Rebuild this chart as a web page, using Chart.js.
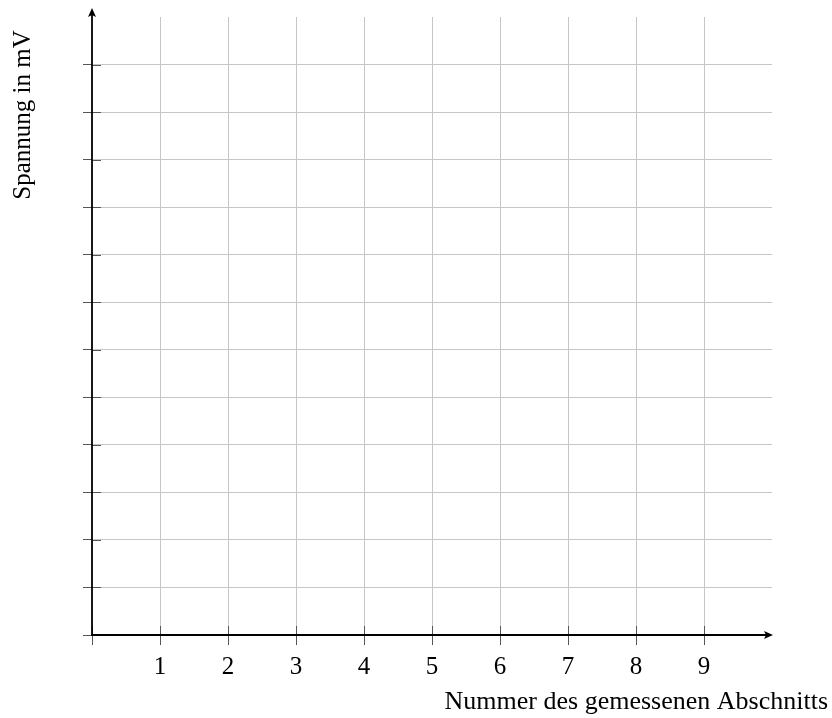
<!DOCTYPE html>
<html>
<head>
<meta charset="utf-8">
<script src="https://cdn.jsdelivr.net/npm/chart.js@4.4.0/dist/chart.umd.min.js"></script>
<style>
  html, body { margin: 0; padding: 0; background: #fff; }
  #wrap { width: 832px; height: 718px; }
</style>
</head>
<body>
<div id="wrap"><canvas id="chart"></canvas></div>
<script>
// empty answer grid: no measured values yet
var xTicks = [0, 1, 2, 3, 4, 5, 6, 7, 8, 9];
var xTickLabels = ['', '1', '2', '3', '4', '5', '6', '7', '8', '9'];
var yTicks = [0, 1, 2, 3, 4, 5, 6, 7, 8, 9, 10, 11, 12];
var xRange = [0, 10];
var yRange = [0, 13];
var xTitle = 'Nummer des gemessenen Abschnitts';
var yTitle = 'Spannung in mV';
var measured = [];

var serif = '"Liberation Serif", "DejaVu Serif", serif';

// only the value 0 sits under the axis line, so hide its grid line
function gridColor(ctx) {
    return ctx.tick && ctx.tick.value === 0 ? 'rgba(0,0,0,0)' : '#c6c6c6';
}

// axes with arrow heads, inner half of tick marks and titles
var axesPlugin = {
    id: 'axes',
    afterDraw: function (chart) {
        var c = chart.ctx;
        var xs = chart.scales.x, ys = chart.scales.y;
        var x0 = xs.getPixelForValue(0), y0 = ys.getPixelForValue(0);
        var xEnd = xs.getPixelForValue(xRange[1]);
        var yEnd = ys.getPixelForValue(yRange[1]) - 9;

        c.save();
        // inner tick marks
        c.strokeStyle = '#555';
        c.lineWidth = 1;
        c.beginPath();
        xTicks.forEach(function (v) {
            var p = Math.round(xs.getPixelForValue(v)) + 0.5;
            c.moveTo(p, y0);
            c.lineTo(p, y0 - 9);
        });
        yTicks.forEach(function (v) {
            var p = Math.round(ys.getPixelForValue(v)) + 0.5;
            c.moveTo(x0, p);
            c.lineTo(x0 + 9, p);
        });
        c.stroke();

        // axis lines
        c.strokeStyle = '#000';
        c.fillStyle = '#000';
        c.lineWidth = 1.8;
        c.beginPath();
        c.moveTo(x0, y0 + 1);
        c.lineTo(x0, yEnd + 4);
        c.moveTo(x0 - 1, y0);
        c.lineTo(xEnd - 4, y0);
        c.stroke();

        // arrow heads
        c.beginPath();
        c.moveTo(x0, yEnd);
        c.lineTo(x0 - 4, yEnd + 9);
        c.lineTo(x0, yEnd + 7);
        c.lineTo(x0 + 4, yEnd + 9);
        c.closePath();
        c.fill();
        c.beginPath();
        c.moveTo(xEnd + 1, y0);
        c.lineTo(xEnd - 8, y0 - 4);
        c.lineTo(xEnd - 6, y0);
        c.lineTo(xEnd - 8, y0 + 4);
        c.closePath();
        c.fill();

        // titles
        c.fillStyle = '#000';
        c.textBaseline = 'alphabetic';
        c.font = '26px ' + serif;
        c.textAlign = 'right';
        c.fillText(xTitle, 828, 709);

        c.font = '25px ' + serif;
        c.translate(30, 115);
        c.rotate(-Math.PI / 2);
        c.textAlign = 'center';
        c.fillText(yTitle, 0, 0);
        c.restore();
    }
};

new Chart(document.getElementById('chart'), {
    type: 'scatter',
    data: {
        datasets: [{
            label: yTitle,
            data: measured,
            showLine: false
        }]
    },
    options: {
        responsive: true,
        maintainAspectRatio: false,
        animation: false,
        layout: { padding: { left: 0, right: 60, top: 17, bottom: 0 } },
        plugins: {
            legend: { display: false },
            tooltip: { enabled: false }
        },
        scales: {
            x: {
                type: 'linear',
                min: xRange[0],
                max: xRange[1],
                afterBuildTicks: function (scale) {
                    scale.ticks = xTicks.map(function (v) { return { value: v }; });
                },
                afterFit: function (scale) { scale.height = 83; },
                border: { display: false },
                grid: {
                    color: gridColor,
                    tickColor: '#555',
                    tickLength: 10,
                    lineWidth: 1
                },
                ticks: {
                    autoSkip: false,
                    maxRotation: 0,
                    padding: 7,
                    color: '#000',
                    font: { family: serif, size: 25 },
                    callback: function (v) {
                        var i = xTicks.indexOf(v);
                        return i < 0 ? '' : xTickLabels[i];
                    }
                }
            },
            y: {
                type: 'linear',
                min: yRange[0],
                max: yRange[1],
                afterBuildTicks: function (scale) {
                    scale.ticks = yTicks.map(function (v) { return { value: v }; });
                },
                afterFit: function (scale) { scale.width = 92; },
                border: { display: false },
                grid: {
                    color: gridColor,
                    tickColor: '#555',
                    tickLength: 9,
                    lineWidth: 1
                },
                ticks: { display: false }
            }
        }
    },
    plugins: [axesPlugin]
});
</script>
</body>
</html>
